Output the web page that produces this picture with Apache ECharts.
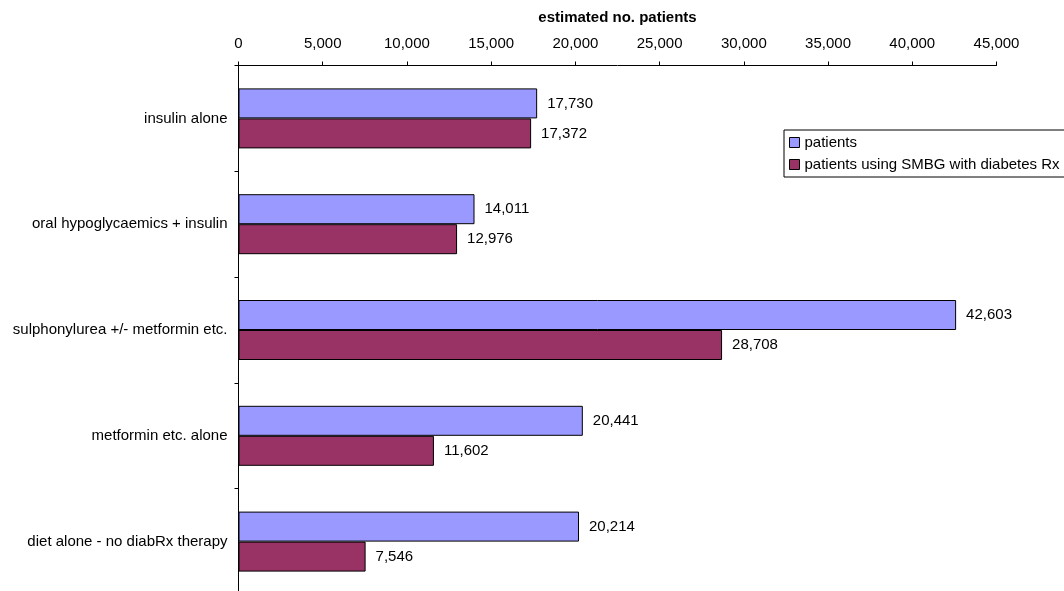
<!DOCTYPE html>
<html>
<head>
<meta charset="utf-8">
<script src="https://cdn.jsdelivr.net/npm/echarts@6/dist/echarts.min.js"></script>
<style>html,body{margin:0;padding:0;background:#fff;overflow:hidden;}#c{width:1064px;height:596px;}</style>
</head>
<body>
<div id="c"></div>
<script>
const categories = ["insulin alone", "oral hypoglycaemics + insulin", "sulphonylurea +/- metformin etc.", "metformin etc. alone", "diet alone - no diabRx therapy"];
const patients = [17730, 14011, 42603, 20441, 20214];
const patientsSMBG = [17372, 12976, 28708, 11602, 7546];
const xTicks = { min: 0, max: 45000, interval: 5000 };
const seriesNames = ["patients", "patients using SMBG with diabetes Rx"];

const font = "'Liberation Sans', Arial, sans-serif";
const fmt = v => Number(v).toLocaleString('en-US');
const chart = echarts.init(document.getElementById('c'), null, { renderer: 'canvas' });
chart.setOption({
  animation: false,
  backgroundColor: '#fff',
  textStyle: { fontFamily: font },
  grid: { left: 238.5, right: 67.5, top: 65.5, bottom: 1.5, containLabel: false },
  legend: {
    orient: 'vertical', left: 784, top: 130,
    itemWidth: 10, itemHeight: 10, itemGap: 5,
    borderColor: '#000', borderWidth: 1,
    padding: [4, 30, 4, 5],
    textStyle: { fontFamily: font, fontSize: 15, color: '#000', lineHeight: 17 },
    data: seriesNames.map(n => ({ name: n, icon: 'rect', itemStyle: { borderColor: '#000', borderWidth: 1 } }))
  },
  xAxis: {
    type: 'value', position: 'top',
    min: xTicks.min, max: xTicks.max, interval: xTicks.interval,
    name: 'estimated no. patients', nameLocation: 'middle', nameGap: 40,
    nameTextStyle: { fontFamily: font, fontSize: 15, fontWeight: 'bold', color: '#000' },
    axisLine: { show: true, lineStyle: { color: '#000', width: 1 } },
    axisTick: { show: true, length: 4, inside: false, lineStyle: { color: '#000' } },
    axisLabel: { fontFamily: font, fontSize: 15, color: '#000', margin: 14, formatter: fmt },
    splitLine: { show: false }
  },
  yAxis: {
    type: 'category', inverse: true, data: categories,
    axisLine: { show: true, lineStyle: { color: '#000', width: 1 } },
    axisTick: { show: true, length: 4, lineStyle: { color: '#000' } },
    axisLabel: { fontFamily: font, fontSize: 15, color: '#000', margin: 11 }
  },
  series: [
    {
      name: seriesNames[0], type: 'bar', data: patients,
      barWidth: 30, barGap: '0%',
      itemStyle: { color: '#9999FF', borderColor: '#000', borderWidth: 1 },
      label: { show: true, position: 'right', distance: 10, fontFamily: font, fontSize: 15, color: '#000', formatter: p => fmt(p.value) }
    },
    {
      name: seriesNames[1], type: 'bar', data: patientsSMBG,
      barWidth: 30, barGap: '0%',
      itemStyle: { color: '#993366', borderColor: '#000', borderWidth: 1 },
      label: { show: true, position: 'right', distance: 10, fontFamily: font, fontSize: 15, color: '#000', formatter: p => fmt(p.value) }
    }
  ]
});
</script>
</body>
</html>
